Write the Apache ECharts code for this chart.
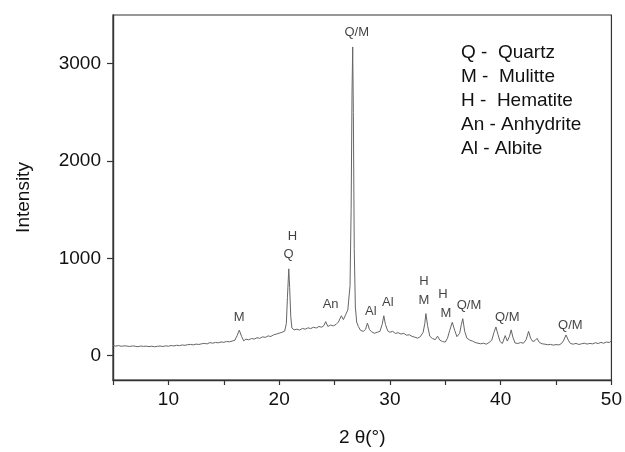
<!DOCTYPE html>
<html>
<head>
<meta charset="utf-8">
<script src="https://cdn.jsdelivr.net/npm/echarts@6/dist/echarts.min.js"></script>
<style>
  html, body { margin: 0; padding: 0; background: #fff; }
  #xrd { width: 625px; height: 452px; }
</style>
</head>
<body>
<div id="xrd"></div>
<script>
  // 2θ (deg) and intensity
  var twoTheta = [
    5.0, 5.25, 5.5, 5.75, 6.0, 6.25, 6.5, 6.75, 7.0, 7.25, 7.5, 7.75, 8.0, 8.25, 8.5, 8.75,
    9.0, 9.25, 9.5, 9.75, 10.0, 10.25, 10.5, 10.75, 11.0, 11.25, 11.5, 11.75, 12.0, 12.25, 12.5, 12.75,
    13.0, 13.25, 13.5, 13.75, 14.0, 14.25, 14.5, 14.75, 15.0, 15.25, 15.5, 15.75, 16.0, 16.2, 16.4, 16.6,
    16.8, 17.0, 17.25, 17.5, 17.75, 18.0, 18.25, 18.5, 18.75, 19.0, 19.25, 19.5, 19.75, 20.0, 20.25, 20.5,
    20.65, 20.75, 20.87, 20.95, 21.05, 21.15, 21.35, 21.6, 21.85, 22.1, 22.35, 22.6, 22.85, 23.1, 23.35, 23.6,
    23.85, 24.05, 24.2, 24.4, 24.65, 24.9, 25.15, 25.35, 25.5, 25.62, 25.8, 26.0, 26.2, 26.4, 26.5, 26.58,
    26.64, 26.7, 26.78, 26.88, 27.0, 27.15, 27.35, 27.6, 27.8, 27.97, 28.15, 28.35, 28.6, 28.85, 29.1, 29.3,
    29.45, 29.6, 29.8, 30.0, 30.25, 30.5, 30.75, 31.0, 31.25, 31.5, 31.75, 32.0, 32.25, 32.5, 32.75, 33.0,
    33.15, 33.25, 33.4, 33.6, 33.85, 34.1, 34.3, 34.5, 34.75, 35.0, 35.2, 35.4, 35.63, 35.85, 36.05, 36.3,
    36.45, 36.58, 36.75, 36.95, 37.2, 37.45, 37.7, 37.95, 38.2, 38.45, 38.7, 38.95, 39.2, 39.4, 39.57, 39.75,
    39.95, 40.15, 40.41, 40.6, 40.8, 40.95, 41.1, 41.3, 41.55, 41.8, 42.05, 42.3, 42.52, 42.7, 42.9, 43.1,
    43.28, 43.5, 43.75, 44.0, 44.25, 44.5, 44.75, 45.0, 45.25, 45.5, 45.7, 45.9, 46.1, 46.3, 46.55, 46.8,
    47.05, 47.3, 47.55, 47.8, 48.05, 48.3, 48.55, 48.8, 49.05, 49.3, 49.55, 49.8, 50.0
  ];
  var intensity = [
    105, 98, 104, 96, 101, 99, 94, 100, 97, 92, 99, 95, 98, 93, 97, 91,
    96, 99, 94, 101, 97, 104, 100, 107, 103, 110, 106, 113, 116, 111, 119, 115,
    122, 126, 121, 134, 128, 136, 132, 141, 137, 146, 142, 150, 158, 205, 262, 200,
    152, 170, 163, 176, 171, 184, 178, 193, 188, 203, 197, 214, 222, 231, 240, 252,
    330, 600, 892, 700, 400, 285, 265, 272, 263, 280, 272, 286, 279, 292, 284, 300,
    292, 310, 350, 300, 315, 306, 322, 345, 330, 410, 370, 420, 470, 720, 1500, 2700,
    3172, 2500, 1100, 500, 345, 300, 260, 250, 270, 335, 270, 245, 230, 240, 250, 320,
    410, 320, 255, 240, 250, 228, 236, 222, 229, 210, 215, 198, 190, 180, 195, 240,
    330, 432, 310, 200, 175, 165, 200, 160, 145, 140, 180, 260, 343, 260, 195, 230,
    320, 380, 250, 180, 160, 150, 135, 128, 122, 128, 118, 135, 160, 240, 295, 220,
    145, 125, 206, 150, 200, 265, 190, 130, 125, 135, 128, 165, 250, 180, 145, 155,
    178, 135, 122, 118, 112, 116, 108, 114, 110, 125, 160, 213, 160, 125, 118, 126,
    115, 122, 128, 119, 126, 121, 133, 125, 136, 128, 140, 135, 152
  ];

  // phase labels over the peaks: [2θ, intensity, text]
  var peakLabels = [
    [16.40, 391, 'M'],
    [20.84, 1039, 'Q'],
    [21.20, 1224, 'H'],
    [24.65, 525, 'An'],
    [27.00, 3322, 'Q/M'],
    [28.27, 453, 'Al'],
    [29.81, 545, 'Al'],
    [33.07, 761, 'H'],
    [33.07, 566, 'M'],
    [34.79, 627, 'H'],
    [35.06, 432, 'M'],
    [37.14, 514, 'Q/M'],
    [40.59, 391, 'Q/M'],
    [46.29, 309, 'Q/M']
  ];

  var legendLines = ['Q -  Quartz', 'M -  Mulitte', 'H -  Hematite', 'An - Anhydrite', 'Al - Albite'];

  var yTicks = [0, 1000, 2000, 3000];

  var font = 'Liberation Sans, Arial, sans-serif';
  var chart = echarts.init(document.getElementById('xrd'), null, {renderer: 'canvas'});

  var pattern = twoTheta.map(function (t, i) { return [t, intensity[i]]; });

  var option = {
    animation: false,
    backgroundColor: '#fff',
    textStyle: {fontFamily: font},
    grid: {
      left: 113,
      right: 13,
      top: 15,
      bottom: 72,
      show: true,
      borderColor: '#333',
      borderWidth: 1.2
    },
    xAxis: {
      type: 'value',
      min: 5,
      max: 50,
      interval: 5,
      name: '2 θ(°)',
      nameLocation: 'middle',
      nameGap: 48,
      nameTextStyle: {fontSize: 19, color: '#111', fontFamily: font},
      axisLine: {show: true, onZero: false, lineStyle: {color: '#333', width: 1.4}},
      axisTick: {show: true, inside: false, length: 5, lineStyle: {color: '#333', width: 1.2}},
      axisLabel: {
        fontSize: 19,
        color: '#111',
        margin: 10,
        fontFamily: font,
        formatter: function (v) { return v % 10 === 0 ? String(v) : ''; }
      },
      splitLine: {show: false}
    },
    yAxis: {
      type: 'value',
      min: -250,
      max: 3500,
      name: 'Intensity',
      nameLocation: 'middle',
      nameGap: 80,
      nameTextStyle: {fontSize: 19, color: '#111', fontFamily: font},
      axisLine: {show: true, onZero: false, lineStyle: {color: '#333', width: 1.4}},
      axisTick: {show: true, inside: false, length: 6, customValues: yTicks, lineStyle: {color: '#333', width: 1.2}},
      axisLabel: {
        fontSize: 19,
        color: '#111',
        margin: 12,
        fontFamily: font,
        customValues: yTicks,
        formatter: function (v) { return String(v); }
      },
      splitLine: {show: false}
    },
    series: [
      {
        type: 'line',
        data: pattern,
        showSymbol: false,
        smooth: false,
        lineStyle: {color: '#666', width: 1},
        z: 3
      },
      {
        type: 'scatter',
        data: peakLabels.map(function (p) { return {value: [p[0], p[1]], name: p[2]}; }),
        symbolSize: 0,
        silent: true,
        label: {
          show: true,
          position: 'inside',
          formatter: function (p) { return p.name; },
          fontSize: 13,
          color: '#111',
          fontFamily: font
        },
        z: 4
      }
    ],
    graphic: legendLines.map(function (txt, i) {
      return {
        type: 'text',
        left: 461,
        top: 43 + i * 24,
        style: {text: txt, fontSize: 19, fill: '#111', fontFamily: font}
      };
    })
  };

  chart.setOption(option);
</script>
</body>
</html>
